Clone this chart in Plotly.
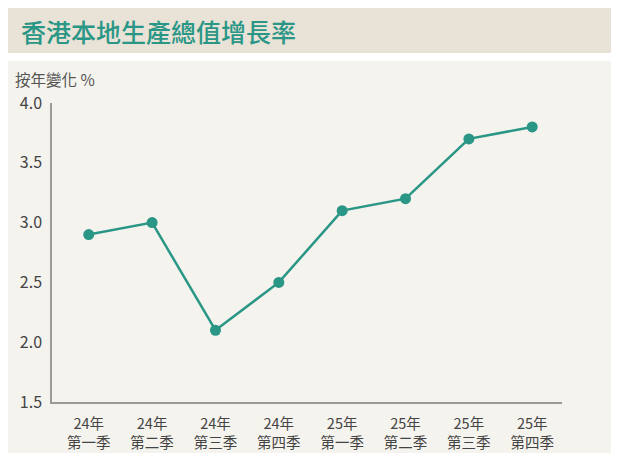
import plotly.graph_objects as go

categories = ["24年<br>第一季", "24年<br>第二季", "24年<br>第三季", "24年<br>第四季",
              "25年<br>第一季", "25年<br>第二季", "25年<br>第三季", "25年<br>第四季"]
values = [2.9, 3.0, 2.1, 2.5, 3.1, 3.2, 3.7, 3.8]
y_ticks = [1.5, 2.0, 2.5, 3.0, 3.5, 4.0]
y_tick_text = ["1.5", "2.0", "2.5", "3.0", "3.5", "4.0"]

teal = "#2a9686"
font_family = "Noto Sans CJK TC, Noto Sans, sans-serif"

fig = go.Figure()
fig.add_trace(go.Scatter(
    x=list(range(len(categories))), y=values, mode="lines+markers",
    line=dict(color=teal, width=2.5),
    marker=dict(color=teal, size=11),
    cliponaxis=False, hoverinfo="skip",
))

# page has an 8px body margin; work in window pixels and convert
OFF = 8
W, H = 619 - OFF, 453 - OFF
L, R, T, B = 52 - OFF, 57, 103 - OFF, 51
pw, ph = W - L - R, H - T - B

def px(x):
    return (x - OFF - L) / pw

def py(y):
    return (H - B - (y - OFF)) / ph

fig.add_shape(type="rect", xref="paper", yref="paper",
              x0=px(7), x1=px(625), y0=py(53), y1=py(8),
              fillcolor="#e9e2d6", line=dict(width=0), layer="below")
fig.add_shape(type="rect", xref="paper", yref="paper",
              x0=px(7), x1=px(625), y0=py(460), y1=py(61),
              fillcolor="#f4f3ee", line=dict(width=0), layer="below")

fig.add_annotation(text="香港本地生產總值增長率", xref="paper", yref="paper",
                   x=px(19), y=py(31), xanchor="left", yanchor="middle",
                   showarrow=False, font=dict(size=25, color=teal, family=font_family, weight=500))
fig.add_annotation(text="按年變化 %", xref="paper", yref="paper",
                   x=px(13), y=py(79), xanchor="left", yanchor="middle",
                   showarrow=False, font=dict(size=15.5, color="#555555", family=font_family))

fig.update_layout(
    width=W, height=H,
    margin=dict(l=L, r=R, t=T, b=B, autoexpand=False),
    paper_bgcolor="rgba(0,0,0,0)", plot_bgcolor="rgba(0,0,0,0)",
    showlegend=False,
    font=dict(family=font_family, size=14, color="#444444"),
    xaxis=dict(
        range=[-0.58, 7.47], tickmode="array",
        tickvals=list(range(len(categories))), ticktext=categories,
        showgrid=False, zeroline=False, showline=True,
        linecolor="#9a9a9a", linewidth=1.5, ticks="",
        ticklabelstandoff=8, automargin=False,
        tickfont=dict(size=14.5, color="#444444"),
    ),
    yaxis=dict(
        range=[1.5, 4.0], tickmode="array", tickvals=y_ticks, ticktext=y_tick_text,
        showgrid=False, zeroline=False, showline=True,
        linecolor="#9a9a9a", linewidth=1.5, ticks="",
        ticklabelstandoff=5, automargin=False,
        tickfont=dict(size=16, color="#444444"),
    ),
)

fig.write_html("out.html")
